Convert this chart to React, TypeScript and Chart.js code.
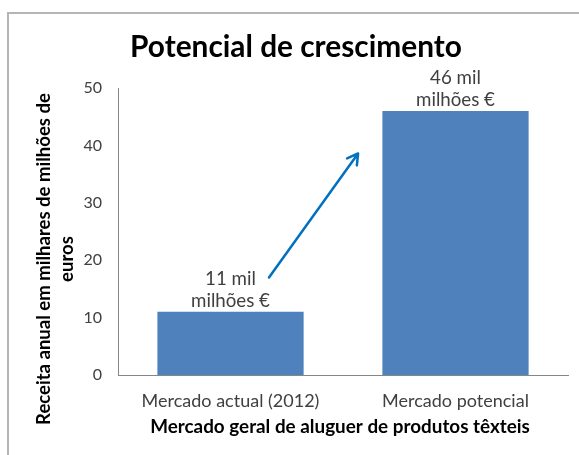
import React, { useEffect, useRef } from "react";
import { Chart, registerables } from "chart.js";
Chart.register(...registerables);

const categories = ["Mercado actual (2012)", "Mercado potencial"];
const values = [11, 46];
const valueLabels = [
  ["11 mil", "milhões €"],
  ["46 mil", "milhões €"],
];
const yMin = 0;
const yMax = 50;
const yStep = 10;
const chartTitle = "Potencial de crescimento";
const yTitleLines = ["Receita anual em milhares de milhões de", "euros"];
const xTitle = "Mercado geral de aluguer de produtos têxteis";
// arrow annotation in data space: [category position, value]
const arrowFrom = [0.171, 17];
const arrowTo = [0.567, 38.6];

const FAMILY = "Lato, 'Open Sans', sans-serif";

function fitFont(ctx: CanvasRenderingContext2D, text: string, weight: string, target: number) {
  ctx.font = `${weight} 20px ${FAMILY}`;
  const w = ctx.measureText(text).width;
  const size = (20 * target) / w;
  return `${weight} ${size.toFixed(2)}px ${FAMILY}`;
}

const textPlugin = {
  id: "customText",
  afterDraw(chart: any) {
    const ctx: CanvasRenderingContext2D = chart.ctx;
    const xs = chart.scales.x;
    const ys = chart.scales.y;
    ctx.save();

    // Title
    ctx.fillStyle = "#000000";
    ctx.font = fitFont(ctx, chartTitle, "bold", 332);
    ctx.textAlign = "center";
    ctx.textBaseline = "alphabetic";
    ctx.fillText(chartTitle, 296, 57);

    // X title
    ctx.font = fitFont(ctx, xTitle, "bold", 380);
    ctx.textBaseline = "middle";
    ctx.fillText(xTitle, (chart.chartArea.left + chart.chartArea.right) / 2 - 3, 427);

    // Y title
    const yFont = fitFont(ctx, yTitleLines[0], "bold", 332);
    ctx.save();
    ctx.translate(44, 259);
    ctx.rotate(-Math.PI / 2);
    ctx.font = yFont;
    ctx.textAlign = "center";
    ctx.textBaseline = "middle";
    ctx.fillText(yTitleLines[0], 0, 0);
    ctx.fillText(yTitleLines[1], 0, 23);
    ctx.restore();

    // Data labels
    const meta = chart.getDatasetMeta(0);
    ctx.fillStyle = "#404040";
    ctx.font = fitFont(ctx, valueLabels[0][1], "normal", 79);
    ctx.textAlign = "center";
    ctx.textBaseline = "middle";
    meta.data.forEach((bar: any, i: number) => {
      ctx.fillText(valueLabels[i][0], bar.x, bar.y - 33);
      ctx.fillText(valueLabels[i][1], bar.x, bar.y - 11);
    });

    // Arrow
    const x1 = xs.getPixelForValue(arrowFrom[0]);
    const y1 = ys.getPixelForValue(arrowFrom[1]);
    const x2 = xs.getPixelForValue(arrowTo[0]);
    const y2 = ys.getPixelForValue(arrowTo[1]);
    ctx.strokeStyle = "#0070C0";
    ctx.lineWidth = 2.5;
    ctx.lineCap = "round";
    ctx.lineJoin = "round";
    ctx.beginPath();
    ctx.moveTo(x1, y1);
    ctx.lineTo(x2, y2);
    const ang = Math.atan2(y2 - y1, x2 - x1);
    const hl = 12;
    ctx.moveTo(x2 - hl * Math.cos(ang - Math.PI / 6), y2 - hl * Math.sin(ang - Math.PI / 6));
    ctx.lineTo(x2, y2);
    ctx.lineTo(x2 - hl * Math.cos(ang + Math.PI / 6), y2 - hl * Math.sin(ang + Math.PI / 6));
    ctx.stroke();

    ctx.restore();
  },
};

export default function App() {
  const ref = useRef<HTMLCanvasElement>(null);
  useEffect(() => {
    if (!ref.current) return;
    const chart = new Chart(ref.current, {
      type: "bar",
      data: {
        labels: categories,
        datasets: [
          {
            data: values,
            backgroundColor: "#4F81BD",
            borderWidth: 0,
            barPercentage: 0.65,
            categoryPercentage: 1,
          },
        ],
      },
      options: {
        responsive: false,
        animation: false,
        layout: { padding: { left: 0, right: 11, top: 88, bottom: 0 } },
        plugins: {
          legend: { display: false },
          title: { display: false },
          tooltip: { enabled: false },
        },
        scales: {
          x: {
            grid: { display: false, drawTicks: false },
            border: { display: true, color: "#868686", width: 1 },
            ticks: {
              color: "#404040",
              font: { family: FAMILY, size: 18 },
              padding: 15,
              maxRotation: 0,
            },
            afterFit: (s: any) => {
              s.height = 80;
            },
          },
          y: {
            min: yMin,
            max: yMax,
            grid: { display: false, drawTicks: false },
            border: { display: true, color: "#868686", width: 1 },
            ticks: {
              stepSize: yStep,
              color: "#404040",
              font: { family: FAMILY, size: 16 },
              padding: 16,
            },
            afterFit: (s: any) => {
              s.width = 118;
            },
          },
        },
      },
      plugins: [textPlugin],
    });
    return () => chart.destroy();
  }, []);

  return (
    <div
      style={{
        position: "fixed",
        left: 0,
        top: 0,
        width: 579,
        height: 455,
        overflow: "hidden",
        background: "#ffffff",
      }}
    >
      <div
        style={{
          position: "absolute",
          left: 7,
          top: 12,
          width: 700,
          height: 600,
          borderLeft: "2px solid #b5b5b5",
          borderTop: "2px solid #b5b5b5",
        }}
      />
      <canvas
        ref={ref}
        width={579}
        height={455}
        style={{ position: "absolute", left: 0, top: 0, display: "block" }}
      />
    </div>
  );
}
